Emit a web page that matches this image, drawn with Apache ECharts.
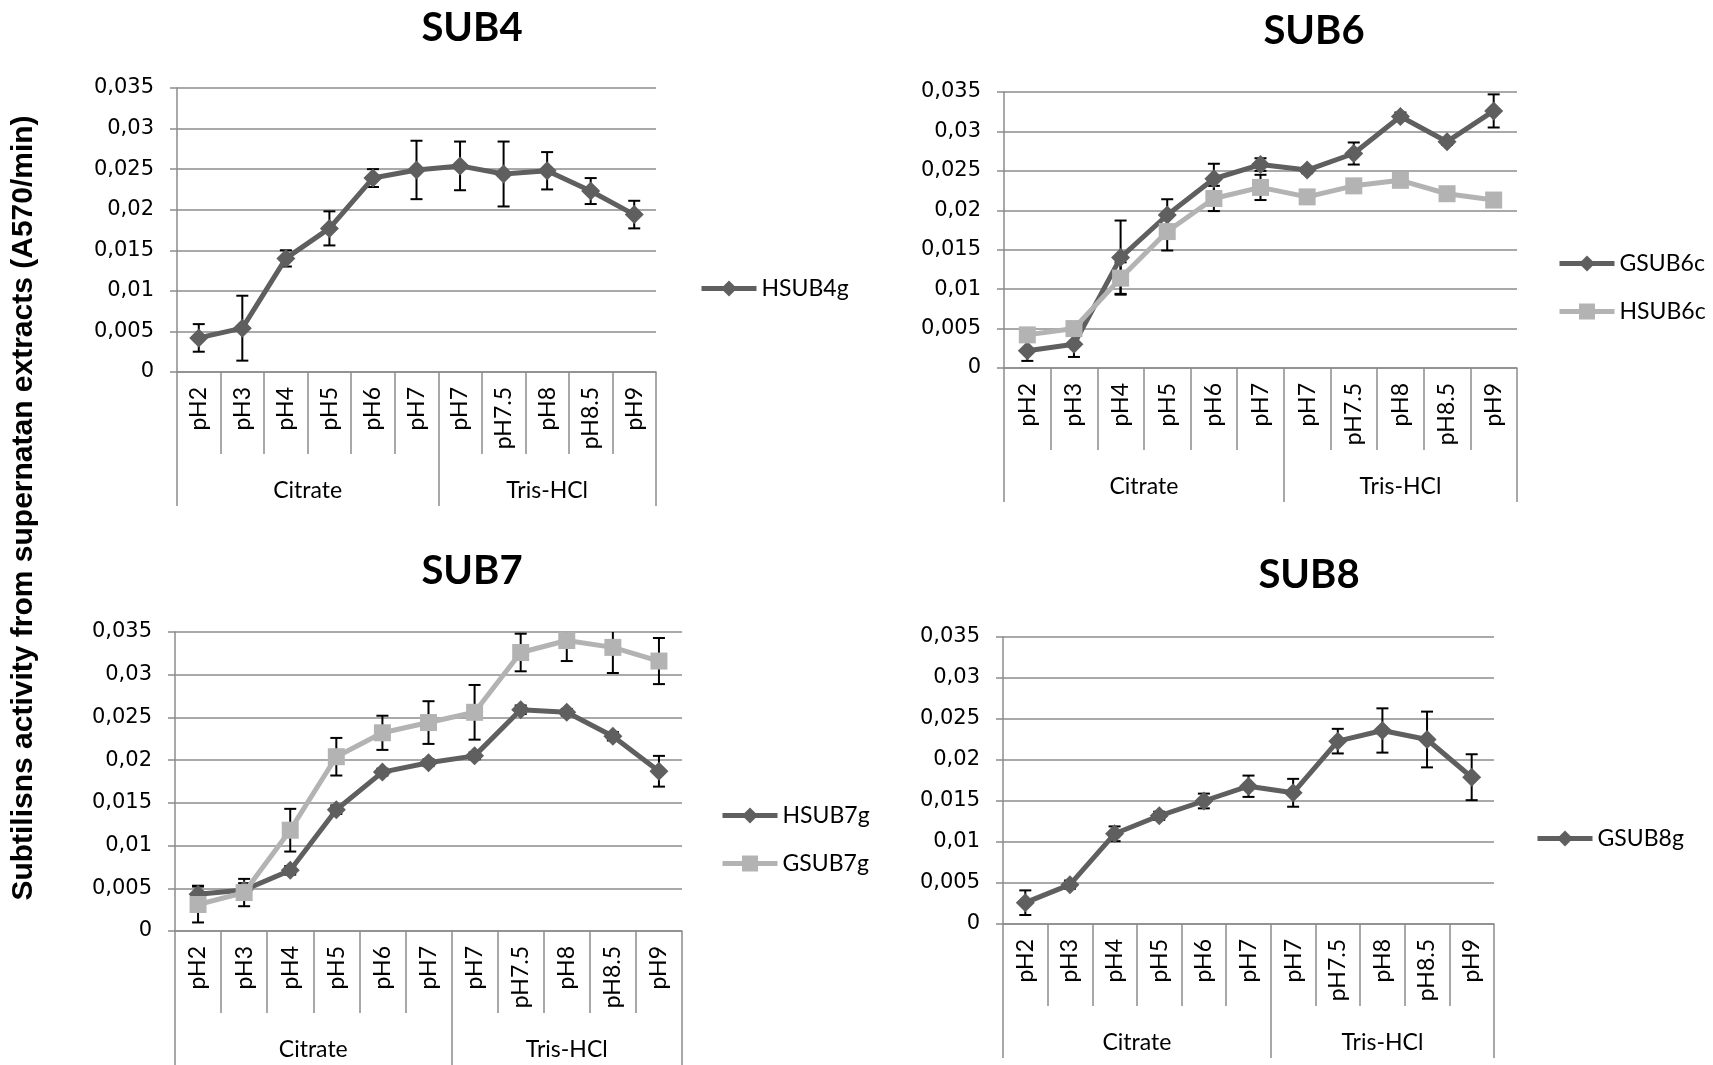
<!DOCTYPE html>
<html><head><meta charset="utf-8">
<script src="https://cdn.jsdelivr.net/npm/echarts/dist/echarts.min.js"></script>
<style>html,body{margin:0;padding:0;background:#fff}#c{width:1713px;height:1065px}</style>
</head><body><div id="c"></div>
<script>
// ---------- data ----------
const phLabels = ['pH2','pH3','pH4','pH5','pH6','pH7','pH7','pH7.5','pH8','pH8.5','pH9'];
const groupNames = ['Citrate','Tris-HCl'];
const groupSizes = [6, 5];
const yTickLabels = ['0','0,005','0,01','0,015','0,02','0,025','0,03','0,035'];
const yStep = 0.005;
const yMax = 0.035;
const panelTitles = ['SUB4','SUB6','SUB7','SUB8'];
const yAxisTitle = 'Subtilisns activity from supernatan extracts (A570/min)';

const hsub4g    = [0.0042, 0.0054, 0.0140, 0.0177, 0.0239, 0.0249, 0.0254, 0.0244, 0.0248, 0.0223, 0.0194];
const hsub4gErr = [0.0017, 0.0040, 0.0010, 0.0021, 0.0011, 0.0036, 0.0030, 0.0040, 0.0023, 0.0016, 0.0017];

const gsub6c    = [0.0022, 0.0030, 0.0140, 0.0194, 0.0240, 0.0258, 0.0251, 0.0272, 0.0319, 0.0287, 0.0326];
const gsub6cErr = [0.0013, 0.0016, 0.0047, 0.0020, 0.0019, 0.0008, 0.0004, 0.0014, 0.0005, 0.0004, 0.0021];
const hsub6c    = [0.0042, 0.0050, 0.0114, 0.0173, 0.0215, 0.0229, 0.0217, 0.0231, 0.0238, 0.0221, 0.0213];
const hsub6cErr = [0.0005, 0.0005, 0.0020, 0.0024, 0.0016, 0.0016, 0.0004, 0.0004, 0.0004, 0.0004, 0.0004];

const hsub7g    = [0.0043, 0.0048, 0.0071, 0.0142, 0.0186, 0.0197, 0.0205, 0.0259, 0.0256, 0.0228, 0.0187];
const hsub7gErr = [0.0010, 0.0008, 0.0005, 0.0005, 0.0004, 0.0004, 0.0004, 0.0005, 0.0004, 0.0005, 0.0018];
const gsub7g    = [0.0031, 0.0045, 0.0118, 0.0204, 0.0232, 0.0244, 0.0256, 0.0326, 0.0340, 0.0332, 0.0316];
const gsub7gErr = [0.0021, 0.0016, 0.0025, 0.0022, 0.0020, 0.0025, 0.0032, 0.0022, 0.0024, 0.0030, 0.0027];

const gsub8g    = [0.0026, 0.0048, 0.0110, 0.0132, 0.0150, 0.0168, 0.0160, 0.0223, 0.0236, 0.0225, 0.0179];
const gsub8gErr = [0.0015, 0.0005, 0.0009, 0.0005, 0.0009, 0.0013, 0.0017, 0.0015, 0.0027, 0.0034, 0.0028];

// ---------- styling / layout ----------
const DARK = '#5f5f5f', LIGHT = '#b3b3b3', GRID = '#8c8c8c';
const FONT = 'Lato';

const panels = [
  { grid:{left:177, top:88, width:479, height:284}, title:{x:472, y:28},
    legend:{left:699, top:277},
    series:[{name:'HSUB4g', data:hsub4g, err:hsub4gErr, color:DARK, symbol:'diamond'}] },
  { grid:{left:1004, top:92, width:513, height:276}, title:{x:1314, y:31},
    legend:{left:1557, top:252},
    series:[{name:'GSUB6c', data:gsub6c, err:gsub6cErr, color:DARK, symbol:'diamond'},
            {name:'HSUB6c', data:hsub6c, err:hsub6cErr, color:LIGHT, symbol:'rect'}] },
  { grid:{left:175, top:632, width:507, height:299}, title:{x:472, y:571},
    legend:{left:720, top:804},
    series:[{name:'HSUB7g', data:hsub7g, err:hsub7gErr, color:DARK, symbol:'diamond'},
            {name:'GSUB7g', data:gsub7g, err:gsub7gErr, color:LIGHT, symbol:'rect'}] },
  { grid:{left:1003, top:637, width:491, height:287}, title:{x:1309, y:575},
    legend:{left:1535, top:827},
    series:[{name:'GSUB8g', data:gsub8g, err:gsub8gErr, color:DARK, symbol:'diamond'}] }
];

// group boundaries & centres (in category units)
const groupBounds = [0];
groupSizes.forEach(s => groupBounds.push(groupBounds[groupBounds.length-1] + s));
const groupCenters = groupSizes.map((s, i) => groupBounds[i] + s / 2);
function groupNameAt(v){
  const i = groupCenters.findIndex(c => Math.abs(c - v) < 1e-6);
  return i >= 0 ? groupNames[i] : '';
}

const option = { animation:false, grid:[], xAxis:[], yAxis:[], series:[], legend:[], graphic:[] };

panels.forEach((p, k) => {
  option.grid.push(Object.assign({containLabel:false}, p.grid));
  // pH category axis
  option.xAxis.push({
    type:'category', gridIndex:k, data:phLabels, boundaryGap:true,
    axisLine:{show:true, lineStyle:{color:GRID, width:1.5}},
    axisTick:{show:true, interval:0, length:82, lineStyle:{color:GRID, width:1.5}},
    axisLabel:{interval:0, rotate:90, margin:15, fontFamily:FONT, fontSize:23, color:'#000'},
    splitLine:{show:false}
  });
  // buffer group axis
  option.xAxis.push({
    type:'value', gridIndex:k, position:'bottom', min:0, max:phLabels.length,
    axisLine:{show:false}, splitLine:{show:false},
    axisTick:{show:true, customValues:groupBounds, length:134, lineStyle:{color:GRID, width:1.5}},
    axisLabel:{show:true, customValues:groupCenters, formatter:v => groupNameAt(v),
               margin:107, fontFamily:FONT, fontSize:23, color:'#000'}
  });
  option.yAxis.push({
    type:'value', gridIndex:k, min:0, max:yMax, interval:yStep,
    axisLine:{show:true, lineStyle:{color:GRID, width:1.5}},
    axisTick:{show:true, length:7, lineStyle:{color:GRID, width:1.5}},
    splitLine:{show:true, lineStyle:{color:GRID, width:1.5}},
    axisLabel:{formatter:v => yTickLabels[Math.round(v / yStep)], margin:23,
               fontFamily:'DejaVu Sans', fontSize:21, color:'#000'}
  });
  p.series.forEach(s => {
    option.series.push({
      type:'custom', xAxisIndex:2*k, yAxisIndex:k, z:1, silent:true, clip:true,
      encode:{x:0, y:[1,2]},
      data:s.data.map((v, i) => [i, v - s.err[i], v + s.err[i]]),
      renderItem(params, api){
        const i = api.value(0);
        const lo = api.coord([i, api.value(1)]);
        const hi = api.coord([i, api.value(2)]);
        const c = 6, st = {stroke:'#000', lineWidth:2};
        return {type:'group', children:[
          {type:'line', shape:{x1:hi[0], y1:hi[1], x2:lo[0], y2:lo[1]}, style:st},
          {type:'line', shape:{x1:hi[0]-c, y1:hi[1], x2:hi[0]+c, y2:hi[1]}, style:st},
          {type:'line', shape:{x1:lo[0]-c, y1:lo[1], x2:lo[0]+c, y2:lo[1]}, style:st}
        ]};
      }
    });
    option.series.push({
      type:'line', name:s.name, xAxisIndex:2*k, yAxisIndex:k, z:3,
      data:s.data, symbol:s.symbol, symbolSize:s.symbol === 'rect' ? 17 : 19,
      lineStyle:{width:5, color:s.color}, itemStyle:{color:s.color},
      emphasis:{disabled:true}
    });
  });
  option.legend.push({
    orient:'vertical', left:p.legend.left, top:p.legend.top, padding:0,
    itemWidth:55, itemHeight:20, itemGap:25, selectedMode:false,
    lineStyle:{width:5},
    data:p.series.map(s => s.name),
    textStyle:{fontFamily:FONT, fontSize:23, color:'#000'}
  });
  option.graphic.push({
    type:'text', x:p.title.x, y:p.title.y,
    style:{text:panelTitles[k], font:'bold 40px Lato', fill:'#000',
           align:'center', verticalAlign:'middle', textAlign:'center', textVerticalAlign:'middle'}
  });
});

option.graphic.push({
  type:'text', x:24, y:508, rotation:Math.PI/2,
  style:{text:yAxisTitle, font:'bold 30px "Liberation Sans"', fill:'#000',
         align:'center', verticalAlign:'middle', textAlign:'center', textVerticalAlign:'middle'}
});

const chart = echarts.init(document.getElementById('c'), null, {renderer:'canvas'});
chart.setOption(option);
</script>
</body></html>
